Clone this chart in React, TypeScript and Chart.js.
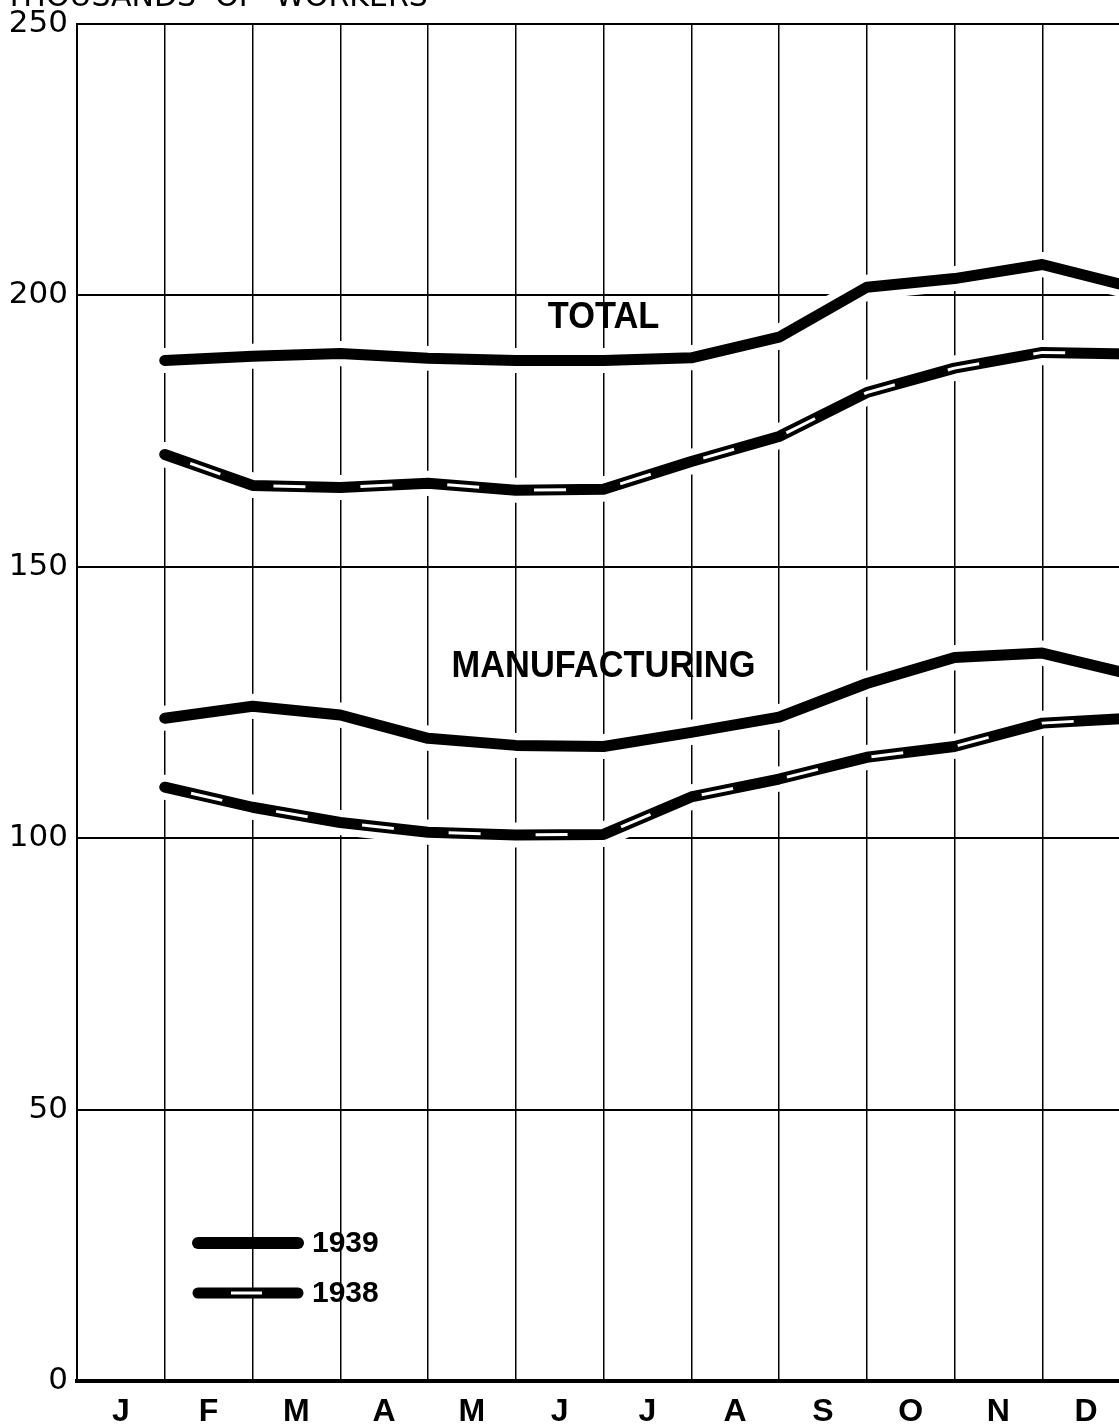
import React, { useEffect, useRef } from 'react';
import { Chart, registerables } from 'chart.js';

Chart.register(...registerables);

// ---- Data ----
const MONTH_LABELS = ['J', 'F', 'M', 'A', 'M', 'J', 'J', 'A', 'S', 'O', 'N', 'D'];
const MONTH_END_INDEX = [1, 2, 3, 4, 5, 6, 7, 8, 9, 10, 11, 12];
const Y_TICKS = [0, 50, 100, 150, 200, 250];
const TOTAL_1939 = [188.0, 188.8, 189.3, 188.4, 188.0, 188.0, 188.5, 192.3, 201.5, 203.1, 205.7, 201.6];
const TOTAL_1938 = [170.7, 165.0, 164.6, 165.4, 164.1, 164.3, 169.4, 174.0, 182.1, 186.6, 189.5, 189.2];
const MFG_1939 = [122.1, 124.3, 122.7, 118.4, 117.1, 116.9, 119.5, 122.3, 128.5, 133.3, 134.1, 130.2];
const MFG_1938 = [109.4, 105.7, 102.9, 101.1, 100.6, 100.7, 107.6, 110.9, 114.9, 116.9, 121.2, 122.1];
const SERIES_YEARS = ['1939', '1938'];
const GROUP_LABELS = ['TOTAL', 'MANUFACTURING'];
const Y_TITLE = 'THOUSANDS  OF  WORKERS';

const toPoints = (vals: number[]) => vals.map((v, i) => ({ x: MONTH_END_INDEX[i], y: v }));

const overlayPlugin = {
  id: 'overlay',
  afterDatasetsDraw(chart: any) {
    const ctx: CanvasRenderingContext2D = chart.ctx;
    const xs = chart.scales.x;
    const ys = chart.scales.y;
    ctx.save();
    ctx.fillStyle = '#000';

    // group labels
    ctx.font = 'bold 37px "Liberation Sans", Arial, sans-serif';
    ctx.textAlign = 'center';
    ctx.textBaseline = 'middle';
    const labelPos = [
      { x: 6, y: 195.8 },
      { x: 6, y: 131.5 },
    ];
    GROUP_LABELS.forEach((t, i) => {
      const px = xs.getPixelForValue(labelPos[i].x);
      const py = ys.getPixelForValue(labelPos[i].y);
      ctx.save();
      ctx.translate(px, py);
      ctx.scale(0.93, 1);
      ctx.fillText(t, 0, 0);
      ctx.restore();
    });

    // legend
    const legendRows = [1243, 1293];
    SERIES_YEARS.forEach((yr, i) => {
      const y = legendRows[i];
      ctx.beginPath();
      ctx.lineCap = 'round';
      ctx.strokeStyle = '#000';
      ctx.lineWidth = i === 0 ? 12 : 11;
      ctx.moveTo(198, y);
      ctx.lineTo(298, y);
      ctx.stroke();
      if (i === 1) {
        ctx.beginPath();
        ctx.lineCap = 'butt';
        ctx.strokeStyle = '#fff';
        ctx.lineWidth = 3;
        ctx.moveTo(231, y);
        ctx.lineTo(262, y);
        ctx.stroke();
      }
      ctx.font = 'bold 30px "Liberation Sans", Arial, sans-serif';
      ctx.textAlign = 'left';
      ctx.textBaseline = 'middle';
      ctx.fillText(yr, 312, y + 1);
    });

    // axis title (cut off at top)
    ctx.font = '30px "DejaVu Sans", sans-serif';
    ctx.textAlign = 'left';
    ctx.textBaseline = 'alphabetic';
    ctx.fillText(Y_TITLE, 5, 6);
    ctx.restore();
  },
};

export default function App() {
  const canvasRef = useRef<HTMLCanvasElement | null>(null);

  useEffect(() => {
    const canvas = canvasRef.current;
    if (!canvas) return;

    const halo = (vals: number[]) => ({
      data: toPoints(vals),
      borderColor: '#ffffff',
      borderWidth: 25,
      borderCapStyle: 'round' as const,
      borderJoinStyle: 'round' as const,
      pointRadius: 0,
      tension: 0,
      order: 10,
    });
    const solid = (label: string, vals: number[]) => ({
      label,
      data: toPoints(vals),
      borderColor: '#000000',
      borderWidth: 11,
      borderCapStyle: 'round' as const,
      borderJoinStyle: 'round' as const,
      pointRadius: 0,
      tension: 0,
      order: 5,
    });
    const dashes = (vals: number[]) => ({
      data: toPoints(vals),
      borderColor: '#ffffff',
      borderWidth: 3,
      borderDash: [32, 55],
      borderDashOffset: 60,
      borderCapStyle: 'butt' as const,
      pointRadius: 0,
      tension: 0,
      order: 1,
    });

    const chart = new Chart(canvas, {
      type: 'line',
      data: {
        datasets: [
          dashes(TOTAL_1938),
          dashes(MFG_1938),
          solid(SERIES_YEARS[0] + ' total', TOTAL_1939),
          solid(SERIES_YEARS[1] + ' total', TOTAL_1938),
          solid(SERIES_YEARS[0] + ' manufacturing', MFG_1939),
          solid(SERIES_YEARS[1] + ' manufacturing', MFG_1938),
          halo(TOTAL_1939),
          halo(TOTAL_1938),
          halo(MFG_1939),
          halo(MFG_1938),
        ] as any,
      },
      options: {
        animation: false,
        responsive: false,
        maintainAspectRatio: false,
        layout: { padding: { top: 24, left: 0, right: 2, bottom: 0 } },
        plugins: {
          legend: { display: false },
          tooltip: { enabled: false },
          title: { display: false },
        },
        scales: {
          x: {
            type: 'linear',
            position: 'bottom',
            min: 0,
            max: 12,
            weight: 0,
            ticks: { display: false, stepSize: 1 },
            grid: { color: '#000', lineWidth: 1.5, drawTicks: false },
            border: { display: true, color: '#000', width: 4 },
            afterFit: (s: any) => { s.height = 0; s.paddingLeft = 0; s.paddingRight = 0; },
          },
          xm: {
            type: 'linear',
            position: 'bottom',
            min: 0,
            max: 12,
            weight: 1,
            grid: { display: false, drawTicks: false },
            border: { display: false },
            afterBuildTicks: (axis: any) => {
              axis.ticks = MONTH_LABELS.map((_, i) => ({ value: i + 0.5 }));
            },
            ticks: {
              autoSkip: false,
              maxRotation: 0,
              padding: 12,
              color: '#000',
              font: { family: '"Liberation Sans", Arial, sans-serif', size: 32, weight: 'bold' },
              callback: (v: any) => MONTH_LABELS[Math.floor(Number(v))] ?? '',
            },
            afterFit: (s: any) => { s.height = 43; s.paddingLeft = 0; s.paddingRight = 0; },
          },
          y: {
            type: 'linear',
            min: 0,
            max: 250,
            afterBuildTicks: (axis: any) => {
              axis.ticks = Y_TICKS.map((v) => ({ value: v }));
            },
            ticks: {
              padding: 9,
              color: '#000',
              font: { family: '"DejaVu Sans", sans-serif', size: 31 },
              callback: (v: any) => String(v),
            },
            grid: { color: '#000', lineWidth: 2, drawTicks: false },
            border: { display: true, color: '#000', width: 2 },
            afterFit: (s: any) => { s.width = 77; s.paddingTop = 0; s.paddingBottom = 0; },
          },
        },
      } as any,
      plugins: [overlayPlugin],
    });

    return () => chart.destroy();
  }, []);

  return (
    <div
      style={{
        position: 'absolute',
        left: 0,
        top: 0,
        width: 1119,
        height: 1424,
        overflow: 'hidden',
        background: '#fff',
      }}
    >
      <canvas ref={canvasRef} width={1132} height={1424} style={{ display: 'block', width: 1132, height: 1424 }} />
    </div>
  );
}
